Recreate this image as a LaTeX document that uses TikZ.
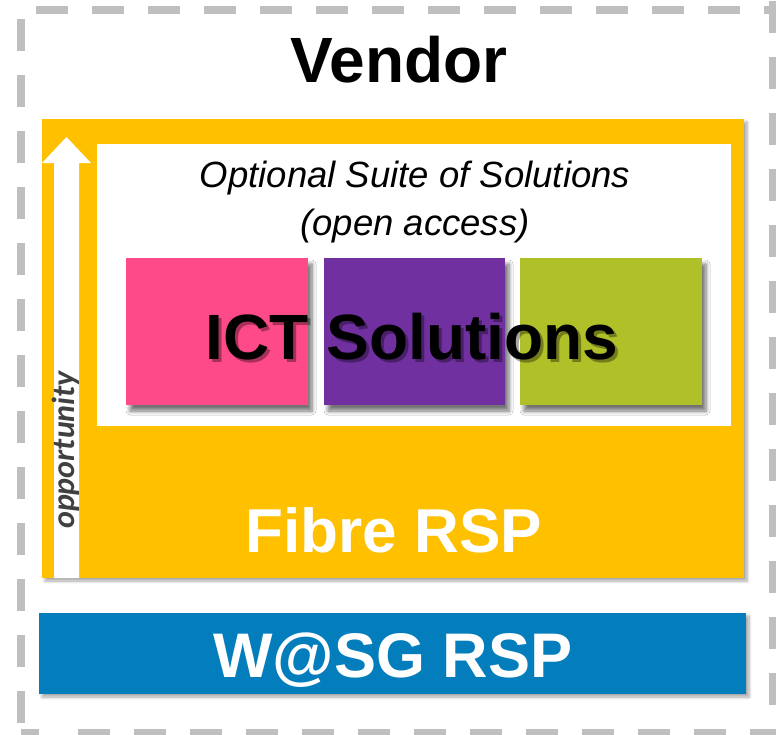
\documentclass[tikz,border=0pt]{standalone}
\usepackage{fontspec}
\setmainfont{Liberation Sans}
\newfontfamily\oppfont{Carlito}
\usetikzlibrary{shadows,shadows.blur}
\definecolor{fyellow}{HTML}{FFC000}
\definecolor{wblue}{HTML}{037DBB}
\definecolor{spink}{HTML}{FF4A89}
\definecolor{spurple}{HTML}{7030A0}
\definecolor{sgreen}{HTML}{B0C028}
\definecolor{dashgray}{HTML}{BFBFBF}
\definecolor{opptext}{HTML}{404040}
\newcommand{\shadowtext}[1]{\rlap{\kern3pt\raisebox{-3pt}{\pgfsetfillopacity{0.35}#1}}\pgfsetfillopacity{1}#1}
\tikzset{
  borderline/.style={draw=dashgray, line width=7.5pt, dash pattern=on 32pt off 24pt},
  panel/.style={rectangle, inner sep=0pt, outer sep=0pt, anchor=north west, draw=none},
  shadowed/.style={blur shadow={shadow xshift=3pt, shadow yshift=-3pt, shadow blur radius=3pt, shadow blur steps=6, shadow opacity=35}},
  sqshadow/.style={blur shadow={shadow xshift=4pt, shadow yshift=-6pt, shadow blur radius=4pt, shadow blur steps=6, shadow opacity=55}},
  bigbold/.style={font=\fontsize{#1}{#1}\selectfont\bfseries, inner sep=0pt, anchor=base},
}
\begin{document}
\begin{tikzpicture}[x=1pt, y=-1pt]
\useasboundingbox (0,0) rectangle (776,734);
\begin{scope}
\clip (0,0) rectangle (776,734);
% dashed outer border
\draw[borderline] (36,10) -- (800,10);
\draw[borderline] (773,1) -- (773,740);
\draw[borderline] (21,19) -- (21,734);
\draw[borderline] (78,733) -- (780,733);
\draw[draw=dashgray, line width=7.5pt] (21,733) -- (39,733);
\end{scope}
% title
\node[bigbold=64] (vendor) at (399,82) {Vendor};
% fibre RSP panel
\node[panel, fill=fyellow, shadowed, minimum width=702pt, minimum height=459pt] (fibre) at (42,119) {};
\node[panel, fill=white, minimum width=634pt, minimum height=282pt] (suite) at (97,144) {};
% opportunity arrow
\fill[white] (54,578) -- (54,163) -- (42,163) -- (66.5,137) -- (91,163) -- (79,163) -- (79,578) -- cycle;
\node[rotate=90, font=\oppfont\fontsize{32}{32}\selectfont\bfseries\itshape, text=opptext, inner sep=0pt] (opp) at (66,450) {opportunity};
% suite text
\node[font=\fontsize{36.5}{48}\selectfont\itshape, align=center, inner sep=0pt, anchor=base] (suitetext) at (415,235) {Optional Suite of Solutions\\(open access)};
% squares
\node[panel, fill=spink, sqshadow, minimum width=182pt, minimum height=147pt] (sq1) at (126,258) {};
\node[panel, fill=spurple, sqshadow, minimum width=181pt, minimum height=147pt] (sq2) at (324,258) {};
\node[panel, fill=sgreen, sqshadow, minimum width=182pt, minimum height=147pt] (sq3) at (520,258) {};
% ICT text with its shadow
\node[bigbold=64, text=black] (ict) at (412,359) {\shadowtext{ICT Solutions}};
% fibre label
\node[bigbold=62, text=white] (fibretext) at (394,552) {Fibre RSP};
% W@SG panel
\node[panel, fill=wblue, shadowed, minimum width=707pt, minimum height=81pt] (wasg) at (39,613) {};
\node[bigbold=63, text=white] (wasgtext) at (393,677) {W@SG RSP};
\end{tikzpicture}
\end{document}
